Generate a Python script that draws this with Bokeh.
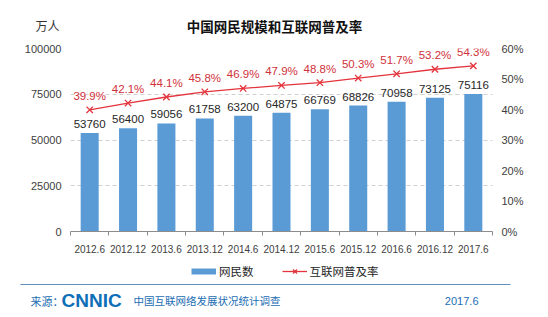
from bokeh.plotting import figure
from bokeh.models import (Range1d, LinearAxis, FixedTicker, LabelSet, Legend,
                          LegendItem, ColumnDataSource, NumeralTickFormatter)
from bokeh.embed import file_html
from bokeh.resources import INLINE
from bokeh.core.properties import value

# ---------------- data ----------------
periods = ["2012.6", "2012.12", "2013.6", "2013.12", "2014.6", "2014.12",
           "2015.6", "2015.12", "2016.6", "2016.12", "2017.6"]
netizens = [53760, 56400, 59056, 61758, 63200, 64875, 66769, 68826, 70958, 73125, 75116]
penetration = [39.9, 42.1, 44.1, 45.8, 46.9, 47.9, 48.8, 50.3, 51.7, 53.2, 54.3]
left_ticks = [0, 25000, 50000, 75000, 100000]
right_ticks = [0, 10, 20, 30, 40, 50, 60]
title_text = "中国网民规模和互联网普及率"
unit_text = "万人"
legend_labels = ["网民数", "互联网普及率"]
source_label = "来源："
source_logo = "CNNIC"
source_name = "中国互联网络发展状况统计调查"
source_date = "2017.6"

# ---------------- geometry ----------------
W, H = 548, 317
FL, FR, FT, FB = 70, 492, 48, 231   # chart frame in page pixels
HH = 40                  # header strip height
MAIN_BOTTOM = 257        # page y where the main chart canvas ends
HM = MAIN_BOTTOM - HH    # main chart height
HF = H - MAIN_BOTTOM     # footer strip height
n = len(periods)
xs = list(range(n))
NAN = float("nan")

BAR = "#5B9BD5"
RED = "#E4343C"
RED_TXT = "#D0313A"
BLUE = "#1b6db3"
FONT = "Liberation Sans"
CJK = "Noto Sans CJK SC"


def strip(h):
    f = figure(width=W, height=h, output_backend="svg", toolbar_location=None,
               x_range=Range1d(0, W), y_range=Range1d(h, 0), min_border=0,
               x_axis_location=None, y_axis_location=None)
    f.outline_line_color = None
    f.grid.grid_line_color = None
    return f

# ---------------- header ----------------
hd = strip(HH)
hd.text(x=[274], y=[25], text=[title_text], text_font=value(CJK), text_font_size="13.5px",
        text_font_style="bold", text_color="#111111", text_align="center",
        text_baseline="middle")
hd.text(x=[47], y=[25], text=[unit_text], text_font=value(CJK), text_font_size="12px",
        text_color="#333333", text_align="center", text_baseline="middle")

# ---------------- main chart ----------------
p = figure(width=W, height=HM, output_backend="svg", toolbar_location=None,
           x_range=Range1d(-0.5, n - 0.5), y_range=Range1d(0, 100000),
           min_border_left=FL, min_border_right=W - FR, min_border_top=FT - HH,
           min_border_bottom=MAIN_BOTTOM - FB)
p.outline_line_color = None
p.extra_y_ranges = {"pct": Range1d(0, 60)}

src = ColumnDataSource(dict(x=xs, n=netizens, pen=penetration,
                            nlab=[str(v) for v in netizens],
                            plab=["%.1f%%" % v for v in penetration]))

p.vbar(x="x", top="n", width=0.47, source=src, fill_color=BAR, line_color=None)
p.line(x="x", y="pen", source=src, y_range_name="pct", line_color=RED, line_width=1.3)
p.scatter(x="x", y="pen", source=src, y_range_name="pct", marker="x", size=9,
          line_color=RED, line_width=1.3)

p.add_layout(LabelSet(x="x", y="n", text="nlab", source=src, text_align="center",
                      text_baseline="bottom", y_offset=5, text_font=value(FONT),
                      text_font_size="11.5px", text_color="#262626"))
p.add_layout(LabelSet(x="x", y="pen", text="plab", source=src, y_range_name="pct",
                      text_align="center", text_baseline="bottom", y_offset=8,
                      text_font=value(FONT), text_font_size="11.5px", text_color=RED_TXT))

p.xaxis.ticker = FixedTicker(ticks=xs, minor_ticks=[i - 0.5 for i in range(n + 1)])
p.xaxis.major_label_overrides = {i: periods[i] for i in xs}
p.xaxis.major_tick_line_color = None
p.xaxis.major_tick_out = 0
p.xaxis.major_tick_in = 0
p.xaxis.minor_tick_line_color = "#8c8c8c"
p.xaxis.minor_tick_out = 4
p.xaxis.minor_tick_in = 0
p.xaxis.axis_line_color = "#8c8c8c"
p.xaxis.major_label_standoff = 9
p.xaxis.major_label_text_font = FONT
p.xaxis.major_label_text_font_size = "10px"
p.xaxis.major_label_text_color = "#404040"

p.yaxis.ticker = FixedTicker(ticks=left_ticks)
p.yaxis.formatter = NumeralTickFormatter(format="0")
p.yaxis.axis_line_color = None
p.yaxis.major_tick_line_color = None
p.yaxis.major_tick_out = 0
p.yaxis.minor_tick_line_color = None
p.yaxis.major_label_standoff = 9
p.yaxis.major_label_text_font = FONT
p.yaxis.major_label_text_font_size = "11px"
p.yaxis.major_label_text_color = "#404040"

ra = LinearAxis(y_range_name="pct", ticker=FixedTicker(ticks=right_ticks),
                major_label_overrides={t: "%d%%" % t for t in right_ticks})
ra.axis_line_color = None
ra.major_tick_line_color = None
ra.major_tick_out = 0
ra.minor_tick_line_color = None
ra.major_label_standoff = 9
ra.major_label_text_font = FONT
ra.major_label_text_font_size = "11px"
ra.major_label_text_color = "#404040"
p.add_layout(ra, "right")

p.xgrid.grid_line_color = None
p.ygrid.ticker = FixedTicker(ticks=left_ticks[1:])
p.ygrid.grid_line_color = "#d0d0d0"
p.ygrid.grid_line_dash = "4 3"

# ---------------- footer (legend + source) ----------------
ft = strip(HF)
k_bar = ft.line(x=[NAN, NAN], y=[NAN, NAN], line_color=BAR, line_width=6)
k_line = ft.line(x=[NAN, NAN], y=[NAN, NAN], line_color=RED, line_width=1.3)
k_mark = ft.scatter(x=[NAN], y=[NAN], marker="x", size=9, line_color=RED, line_width=1.3)
legend = Legend(items=[LegendItem(label=legend_labels[0], renderers=[k_bar]),
                       LegendItem(label=legend_labels[1], renderers=[k_line, k_mark])],
                orientation="horizontal", location=(191, HF - (272 - MAIN_BOTTOM) - 7),
                glyph_width=25, glyph_height=14, label_standoff=3, spacing=28,
                padding=0, margin=0, border_line_color=None, background_fill_alpha=0,
                label_text_font=CJK, label_text_font_size="11.5px",
                label_text_color="#262626", label_height=14)
ft.add_layout(legend, "center")

y0 = 284 - MAIN_BOTTOM
yt = 300 - MAIN_BOTTOM
ft.segment(x0=[20], y0=[y0], x1=[510], y1=[y0], line_color="#5e8fbf", line_width=1.2)
ft.text(x=[30], y=[yt], text=[source_label], text_font=value(CJK), text_font_size="11px",
        text_color=BLUE, text_baseline="middle")
ft.text(x=[61], y=[yt], text=[source_logo], text_font=value(FONT), text_font_size="19px",
        text_font_style="bold", text_color="#0e6fb8", text_baseline="middle")
ft.text(x=[133], y=[yt], text=[source_name], text_font=value(CJK), text_font_size="10.5px",
        text_color=BLUE, text_baseline="middle")
ft.text(x=[478], y=[yt], text=[source_date], text_font=value(FONT), text_font_size="11px",
        text_color=BLUE, text_baseline="middle", text_align="right")

open("out.html", "w").write(file_html([hd, p, ft], INLINE))
